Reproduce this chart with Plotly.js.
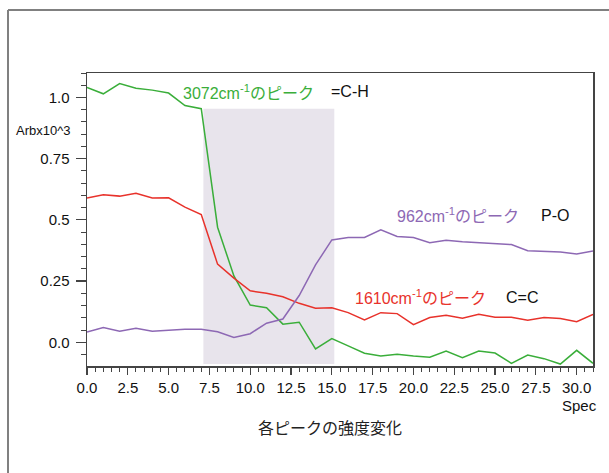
<!DOCTYPE html>
<html>
<head>
<meta charset="utf-8">
<script src="https://cdn.plot.ly/plotly-3.0.1.min.js"></script>
<style>
html,body{margin:0;padding:0;background:#fff;}
#chart{width:609px;height:473px;}
</style>
</head>
<body>
<div id="chart"></div>
<script>
// ---- data ----
const spec = [0,1,2,3,4,5,6,7,8,9,10,11,12,13,14,15,16,17,18,19,20,21,22,23,24,25,26,27,28,29,30,31];
const peak3072 = [1.041,1.015,1.057,1.038,1.030,1.018,0.967,0.954,0.470,0.271,0.152,0.141,0.074,0.082,-0.027,0.015,
                  -0.015,-0.045,-0.056,-0.049,-0.056,-0.061,-0.036,-0.063,-0.036,-0.044,-0.086,-0.052,-0.067,-0.089,-0.033,-0.086];
const peak1610 = [0.589,0.603,0.597,0.609,0.589,0.590,0.552,0.522,0.319,0.262,0.210,0.200,0.186,0.159,0.139,0.141,
                  0.121,0.091,0.121,0.117,0.072,0.101,0.110,0.098,0.114,0.102,0.102,0.090,0.101,0.097,0.084,0.114];
const peak962  = [0.042,0.060,0.045,0.057,0.045,0.050,0.053,0.053,0.043,0.020,0.035,0.078,0.095,0.191,0.316,0.418,
                  0.428,0.428,0.459,0.432,0.428,0.407,0.417,0.411,0.407,0.403,0.399,0.374,0.370,0.369,0.361,0.373];
const xTickVals = [0,2.5,5,7.5,10,12.5,15,17.5,20,22.5,25,27.5,30];
const xTickText = ['0.0','2.5','5.0','7.5','10.0','12.5','15.0','17.5','20.0','22.5','25.0','27.5','30.0'];
const yTickVals = [0,0.25,0.5,0.75,1.0];
const yTickText = ['0.0','0.25','0.5','0.75','1.0'];
const seriesNames = ['3072cm<sup>-1</sup>のピーク','1610cm<sup>-1</sup>のピーク','962cm<sup>-1</sup>のピーク'];
const bondNames = ['=C-H','C=C','P-O'];
const xTitle = 'Spec';
const yTitle = 'Arbx10^3';
const chartTitle = '各ピークの強度変化';

// ---- layout helpers ----
const L=87, R=593, T=73, B=366;
const px = x => (x-L)/(R-L);
const py = y => (B-y)/(B-T);
const GREEN='#3aae3a', RED='#e8322b', PURPLE='#8d68b4';
const FONT='"Liberation Sans", Arial, "Noto Sans CJK JP", sans-serif';

const traces = [
  {x:spec, y:peak3072, mode:'lines', line:{color:GREEN,width:1.5}, name:seriesNames[0]},
  {x:spec, y:peak1610, mode:'lines', line:{color:RED,width:1.5}, name:seriesNames[1]},
  {x:spec, y:peak962,  mode:'lines', line:{color:PURPLE,width:1.5}, name:seriesNames[2]}
];

function ann(x,y,text,color,size,anchor,family){
  return {xref:'paper',yref:'paper',x:px(x),y:py(y),text:text,showarrow:false,
    xanchor:anchor||'left',yanchor:'middle',font:{color:color,size:size||16,family:family||FONT}};
}

const layout = {
  width:609, height:473,
  margin:{l:L, r:609-R, t:T, b:473-B, pad:0},
  paper_bgcolor:'#fff', plot_bgcolor:'#fff',
  showlegend:false,
  font:{family:FONT, color:'#111', size:15},
  xaxis:{
    range:[0,31], showgrid:false, zeroline:false,
    showline:true, linecolor:'#444', linewidth:1.5, mirror:true,
    tickmode:'array', tickvals:xTickVals, ticktext:xTickText,
    ticks:'outside', ticklen:7, tickwidth:1.2, tickcolor:'#444',
    tickfont:{size:15, color:'#111'},
    minor:{tickmode:'linear', tick0:0, dtick:0.5, ticks:'outside', ticklen:4, tickwidth:1, tickcolor:'#444'}
  },
  yaxis:{
    range:[-0.097,1.1], showgrid:false, zeroline:false,
    showline:true, linecolor:'#444', linewidth:1.5, mirror:true,
    tickmode:'array', tickvals:yTickVals, ticktext:yTickText,
    ticks:'outside', ticklen:10, tickwidth:1.2, tickcolor:'#444',
    ticklabelstandoff:3,
    tickfont:{size:15, color:'#111'},
    minor:{tickmode:'linear', tick0:0, dtick:0.05, ticks:'outside', ticklen:5, tickwidth:1, tickcolor:'#444'}
  },
  shapes:[
    {type:'rect', xref:'x', yref:'y', x0:7.13, x1:15.15, y0:-0.089, y1:0.954,
     fillcolor:'#e8e4ec', line:{width:0}, layer:'below'},
    {type:'line', xref:'paper', yref:'paper', x0:px(8), x1:px(609), y0:py(10), y1:py(10),
     line:{color:'#808080', width:2}},
    {type:'line', xref:'paper', yref:'paper', x0:px(8), x1:px(8), y0:py(10), y1:py(473),
     line:{color:'#808080', width:2}}
  ],
  annotations:[
    ann(181,92,seriesNames[0],GREEN,16),
    ann(329,92,bondNames[0],'#111',16),
    ann(353,297,seriesNames[1],RED,16),
    ann(504,297,bondNames[1],'#111',16),
    ann(395,215,seriesNames[2],PURPLE,16),
    ann(539,215,bondNames[2],'#111',16),
    ann(599,405,xTitle,'#111',15,'right'),
    ann(330,428,chartTitle,'#222',16,'center'),
    ann(73,130,yTitle,'#111',13,'right','"Liberation Sans Narrow", "Liberation Sans", Arial, sans-serif')
  ]
};

Plotly.newPlot('chart', traces, layout, {staticPlot:true, displayModeBar:false});
</script>
</body>
</html>
